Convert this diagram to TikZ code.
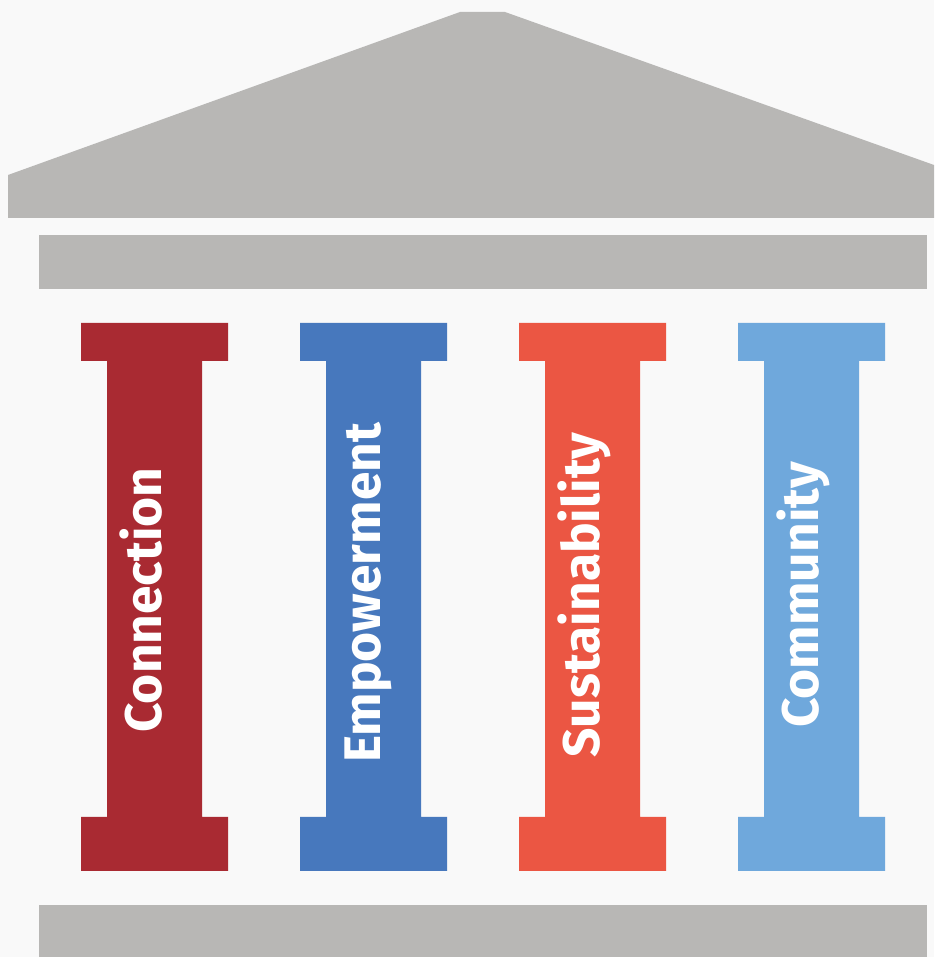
\documentclass[tikz,border=0pt]{standalone}
\usepackage{fontspec}
\usepackage{xcolor}
\setmainfont{Fira Sans}
\definecolor{bgcol}{HTML}{F9F9F9}
\definecolor{stonecol}{HTML}{B8B7B5}
\definecolor{redcol}{HTML}{A92A32}
\definecolor{bluecol}{HTML}{4778BD}
\definecolor{orangecol}{HTML}{EB5643}
\definecolor{skycol}{HTML}{6FA8DC}
\tikzset{
  pillartext/.style={rotate=90, anchor=base, text=white, inner sep=0pt,
    font=\fontsize{29.3}{30}\selectfont\bfseries}
}

\begin{document}
\begin{tikzpicture}[x=0.02cm, y=0.02cm]
  \fill[bgcol] (0,0) rectangle (934,957);
  % roof, architrave and floor
  \fill[stonecol] (8,739) -- (8,782) -- (460,945) -- (505,945) -- (934,792) -- (934,739) -- cycle;
  \fill[stonecol] (39,668) rectangle (927,722);
  \fill[stonecol] (39,0) rectangle (927,52);
  % the four pillars
  \fill[redcol] (81,86) -- (228,86) -- (228,140) -- (202,140) -- (202,596) -- (228,596)
    -- (228,634) -- (81,634) -- (81,596) -- (107,596) -- (107,140) -- (81,140) -- cycle;
  \fill[bluecol] (300,86) -- (447,86) -- (447,140) -- (421,140) -- (421,596) -- (447,596)
    -- (447,634) -- (300,634) -- (300,596) -- (326,596) -- (326,140) -- (300,140) -- cycle;
  \fill[orangecol] (519,86) -- (666,86) -- (666,140) -- (640,140) -- (640,596) -- (666,596)
    -- (666,634) -- (519,634) -- (519,596) -- (545,596) -- (545,140) -- (519,140) -- cycle;
  \fill[skycol] (738,86) -- (885,86) -- (885,140) -- (859,140) -- (859,596) -- (885,596)
    -- (885,634) -- (738,634) -- (738,596) -- (764,596) -- (764,140) -- (738,140) -- cycle;
  \node[pillartext] (connection) at (161,357) {Connection};
  \node[pillartext] (empowerment) at (380,364) {Empowerment};
  \node[pillartext] (sustainability) at (599,362) {Sustainability};
  \node[pillartext] (community) at (818,362) {Community};
\end{tikzpicture}
\end{document}
